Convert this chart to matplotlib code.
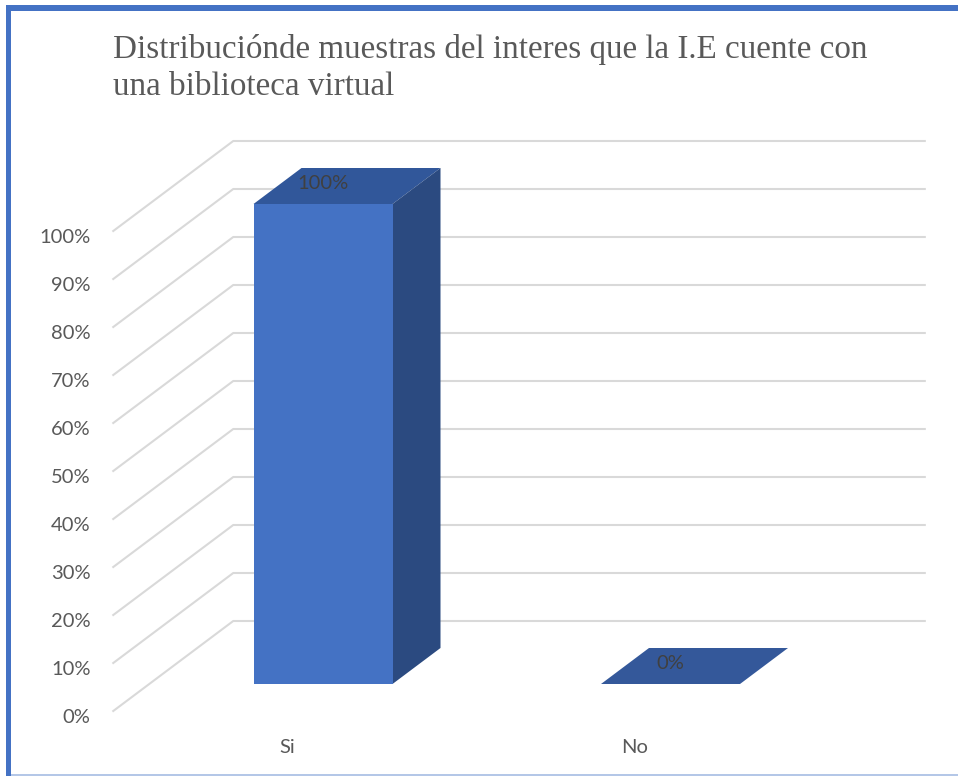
import matplotlib.pyplot as plt
from matplotlib.patches import Polygon, Rectangle

# --- datos ---
categorias = ['Si', 'No']
valores = [100, 0]
etiquetas = ['100%', '0%']
ticks = list(range(0, 101, 10))
titulo_1 = 'Distribuciónde muestras del interes que la I.E cuente con'
titulo_2 = 'una biblioteca virtual'

# --- estilo ---
c_frente = '#4472C4'
c_techo = '#31579A'
c_lado = '#2B4A80'
c_grid = '#D9D9D9'
c_texto = '#595959'

W, H = 958, 776
fig = plt.figure(figsize=(W / 100, H / 100), dpi=100)
ax = fig.add_axes([0, 0, 1, 1])

# escala: categoria -> 347.5 px, 1% -> 4.8 px ; plano frontal: x0=287 px, y0=711 px (desde arriba)
px_cat, px_pct = 347.5, 4.8
x0, y0 = 287, 711
ax.set_xlim(-x0 / px_cat, (W - x0) / px_cat)
ax.set_ylim(-(H - y0) / px_pct, y0 / px_pct)
ax.axis('off')

# profundidad oblicua (en unidades de datos)
prof_x = 120 / px_cat
prof_y = 90 / px_pct


def p(x, y, d):
    return (x + d * prof_x, y + d * prof_y)


x_min, x_max = -0.5, len(categorias) - 0.51

# lineas de la cuadricula (pared lateral y pared del fondo)
for t in ticks:
    pts = [p(x_min, t, 0), p(x_min, t, 1), p(x_max, t, 1)]
    ax.plot([q[0] for q in pts], [q[1] for q in pts], color=c_grid, lw=1.5, zorder=1)
    ax.text(x_min - 0.065, t - 1.4, f'{t}%', ha='right', va='center',
            fontsize=14.5, family='Lato', color=c_texto)

# barras 3D
ancho = 0.4
d1, d2 = 0.3, 0.7
for i, (v, lab) in enumerate(zip(valores, etiquetas)):
    xl, xr = i - ancho / 2, i + ancho / 2
    techo = [p(xl, v, d1), p(xr, v, d1), p(xr, v, d2), p(xl, v, d2)]
    ax.add_patch(Polygon(techo, closed=True, fc=c_techo if v > 0 else '#34589A', ec='none', zorder=3))
    if v > 0:
        lado = [p(xr, 0, d1), p(xr, 0, d2), p(xr, v, d2), p(xr, v, d1)]
        ax.add_patch(Polygon(lado, closed=True, fc=c_lado, ec='none', zorder=3))
        frente = [p(xl, 0, d1), p(xr, 0, d1), p(xr, v, d1), p(xl, v, d1)]
        ax.add_patch(Polygon(frente, closed=True, fc=c_frente, ec='none', zorder=4))
    lx, _ = p(i, v, d1)
    _, ly = p(i, v, (d1 + d2) / 2)
    ax.text(lx, ly + 0.6, lab, ha='center', va='center', fontsize=14.5,
            family='Lato', color='#404040', zorder=5)
    ax.text(i, -7.7, categorias[i], ha='center', va='center', fontsize=14.5,
            family='Lato', color=c_texto)

# titulo (dos lineas, ajustado al ancho)
t1 = fig.text(113 / W, 1 - 58 / H, titulo_1, ha='left', va='baseline',
              family='Liberation Serif', fontsize=22, color=c_texto)
fig.canvas.draw()
ancho_px = t1.get_window_extent().width
fs = 22 * 753 / ancho_px
t1.set_fontsize(fs)
fig.text(113 / W, 1 - 95 / H, titulo_2, ha='left', va='baseline',
         family='Liberation Serif', fontsize=fs, color=c_texto)

# marco
fig.patches.append(Rectangle((6 / W, 0), 5 / W, 1 - 5 / H, transform=fig.transFigure,
                             fc='#4472C4', ec='none'))
fig.patches.append(Rectangle((6 / W, 1 - 11 / H), 1, 6 / H, transform=fig.transFigure,
                             fc='#4472C4', ec='none'))
fig.patches.append(Rectangle((11 / W, 0), 1, 2 / H, transform=fig.transFigure,
                             fc='#B4C7E7', ec='none'))

fig.savefig('out.png', dpi=100)
